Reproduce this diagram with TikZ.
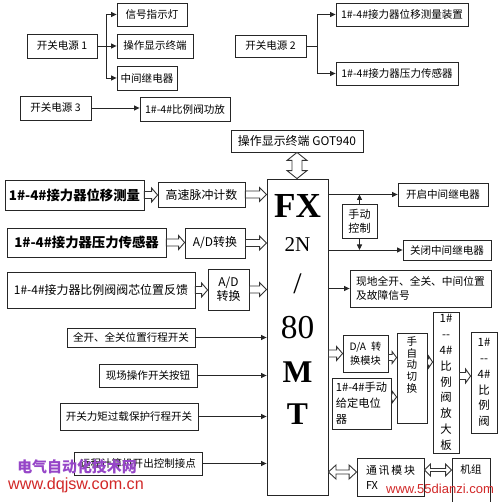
\documentclass[tikz,border=0pt]{standalone}
\usepackage{fontspec}
\setmainfont{Liberation Serif}
\newfontfamily\cjk{Noto Sans CJK SC}
\newfontfamily\wmfont{Liberation Sans}
\usetikzlibrary{arrows.meta,calc}
\definecolor{wmpurple}{RGB}{150,70,200}
\definecolor{wmred}{RGB}{210,40,40}
\newcommand\harrowR[5]{\draw[hollow] let \p1=(#1), \p2=(#2) in
  (\x1,\y1+#3) -- (\x2-#5,\y1+#3) -- (\x2-#5,\y1+#4) -- (\x2,\y1) -- (\x2-#5,\y1-#4) -- (\x2-#5,\y1-#3) -- (\x1,\y1-#3) -- cycle;}
\newcommand\harrowHH[5]{\draw[hollow] let \p1=(#1), \p2=(#2) in
  (\x1,\y1) -- (\x1+#5,\y1+#4) -- (\x1+#5,\y1+#3) -- (\x2-#5,\y1+#3) -- (\x2-#5,\y1+#4) -- (\x2,\y1) -- (\x2-#5,\y1-#4) -- (\x2-#5,\y1-#3) -- (\x1+#5,\y1-#3) -- (\x1+#5,\y1-#4) -- cycle;}
\newcommand\harrowVV[5]{\draw[hollow] let \p1=(#1), \p2=(#2) in
  (\x1,\y1) -- (\x1+#4,\y1-#5) -- (\x1+#3,\y1-#5) -- (\x1+#3,\y2+#5) -- (\x1+#4,\y2+#5) -- (\x1,\y2) -- (\x1-#4,\y2+#5) -- (\x1-#3,\y2+#5) -- (\x1-#3,\y1-#5) -- (\x1-#4,\y1-#5) -- cycle;}
\tikzset{
  box/.style={draw=black!85, line width=0.5pt, inner sep=0.5pt, align=center, font=\cjk\fontsize{6}{7}\selectfont},
  boldtxt/.style={font=\cjk\bfseries\fontsize{7.6}{9}\selectfont},
  midtxt/.style={font=\cjk\fontsize{6.8}{8}\selectfont},
  vtxt/.style={font=\cjk\fontsize{6.5}{9}\selectfont, align=center, inner sep=0pt},
  conn/.style={draw=black!85, line width=0.5pt},
  arr/.style={conn, -{Triangle[length=1.1mm,width=1mm]}},
  hollow/.style={draw=black!80, line width=0.5pt, fill=white},
}
\begin{document}
\begin{tikzpicture}[x=0.02cm,y=-0.02cm]
\useasboundingbox (0,0) rectangle (500,502);
\fill[white] (0,0) rectangle (500,502);
\clip (0,0) rectangle (500,502);

% ---------- power supplies ----------
\node[box, minimum width=14mm, minimum height=4.8mm] (p1) at (62,46) {开关电源 1};
\node[box, minimum width=14mm, minimum height=4.6mm] (sig) at (152,14.5) {信号指示灯};
\node[box, minimum width=15.2mm, minimum height=4.8mm] (opd) at (155,46) {操作显示终端};
\node[box, minimum width=12mm, minimum height=4.8mm] (rel) at (147,78) {中间继电器};
\coordinate (b1) at (106,46);
\draw[conn] (p1.east) -- (b1);
\draw[conn] (b1 |- sig.west) -- (b1 |- rel.west);
\draw[arr] (b1 |- sig.west) -- (sig.west);
\draw[arr] (b1 |- opd.west) -- (opd.west);
\draw[arr] (b1 |- rel.west) -- (rel.west);

\node[box, minimum width=14.2mm, minimum height=4.8mm] (p3) at (55.5,108) {开关电源 3};
\node[box, minimum width=18mm, minimum height=4.8mm] (amp) at (185,109) {1\#-4\#比例阀功放};
\draw[arr] (p3.east) -- (amp.west |- p3.east);

\node[box, minimum width=14.2mm, minimum height=4.4mm] (p2) at (270.5,46) {开关电源 2};
\node[box, minimum width=26.4mm, minimum height=4.6mm] (dsp) at (402,14.5) {1\#-4\#接力器位移测量装置};
\node[box, minimum width=24.4mm, minimum height=4.6mm] (prs) at (397,73.5) {1\#-4\#接力器压力传感器};
\coordinate (b2) at (317,46);
\draw[conn] (p2.east) -- (b2);
\draw[conn] (b2 |- dsp.west) -- (b2 |- prs.west);
\draw[arr] (b2 |- dsp.west) -- (dsp.west);
\draw[arr] (b2 |- prs.west) -- (prs.west);

% ---------- PLC ----------
\node[box, font=\cjk\fontsize{6.8}{8}\selectfont, minimum width=26.4mm, minimum height=4.4mm] (got) at (297,141) {操作显示终端 GOT940};
\node[box, minimum width=12.2mm, minimum height=63.2mm] (fx) at (297.5,337) {};
\node[font=\bfseries\fontsize{20}{20}\selectfont] (fx1) at (297.5,206) {FX};
\node[font=\fontsize{12}{12}\selectfont] (fx2) at (297.5,245) {2N};
\node[font=\fontsize{17}{17}\selectfont] (fx3) at (297.5,284) {/};
\node[font=\fontsize{19}{19}\selectfont] (fx4) at (297.5,328) {80};
\node[font=\bfseries\fontsize{18}{18}\selectfont] (fx5) at (297.5,372) {M};
\node[font=\bfseries\fontsize{18}{18}\selectfont] (fx6) at (297.5,414) {T};
\harrowVV{got.south}{fx.north}{1mm}{2mm}{1.6mm}

% ---------- left inputs ----------
\node[box, boldtxt, minimum width=27.8mm, minimum height=6mm] (l1) at (74.5,195) {1\#-4\#接力器位移测量};
\node[box, midtxt, minimum width=17.4mm, minimum height=5mm] (hs) at (201.5,194.5) {高速脉冲计数};
\node[box, boldtxt, minimum width=31.8mm, minimum height=5.8mm] (l2) at (86.5,242.5) {1\#-4\#接力器压力传感器};
\node[box, midtxt, minimum width=12mm, minimum height=6mm] (ad1) at (215,243) {A/D转换};
\node[box, midtxt, minimum width=37.6mm, minimum height=7.2mm] (l3) at (101,290) {1\#-4\#接力器比例阀阀芯位置反馈};
\node[box, midtxt, minimum width=8.2mm, minimum height=8.2mm] (ad2) at (228.5,289.5) {A/D\\转换};
\harrowR{l1.east}{hs.west}{0.7mm}{1.4mm}{1.2mm}
\harrowR{hs.east}{fx.west}{0.7mm}{1.4mm}{1.4mm}
\harrowR{l2.east}{ad1.west}{0.7mm}{1.4mm}{1.2mm}
\harrowR{ad1.east}{fx.west}{0.7mm}{1.4mm}{1.4mm}
\harrowR{l3.east}{ad2.west}{0.7mm}{1.4mm}{1.2mm}
\harrowR{ad2.east}{fx.west}{0.7mm}{1.4mm}{1.4mm}

\node[box, minimum width=25.6mm, minimum height=3.8mm] (l4) at (131,337.5) {全开、全关位置行程开关};
\node[box, minimum width=19.6mm, minimum height=4.6mm] (l5) at (148,375.5) {现场操作开关按钮};
\node[box, minimum width=27.6mm, minimum height=5.4mm] (l6) at (129,416.5) {开关力矩过载保护行程开关};
\node[box, minimum width=25.6mm, minimum height=4.6mm] (l7) at (138,463.5) {远程计算机开出控制接点};
\draw[arr] (l4.east) -- (l4.east -| fx.west);
\draw[arr] (l5.east) -- (l5.east -| fx.west);
\draw[arr] (l6.east) -- (l6.east -| fx.west);
\draw[arr] (l7.east) -- (l7.east -| fx.west);

% ---------- right outputs ----------
\node[box, minimum width=18mm, minimum height=4.6mm] (on) at (443,194.5) {开启中间继电器};
\node[box, font=\cjk\fontsize{6.3}{8}\selectfont, minimum width=7mm, minimum height=6.8mm] (man) at (359.5,221) {手动\\控制};
\node[box, minimum width=17.6mm, minimum height=4mm] (off) at (447,250) {关闭中间继电器};
\node[box, align=left, font=\cjk\fontsize{6.1}{8}\selectfont, minimum width=28.2mm, minimum height=7.4mm] (loc) at (420.5,288.5) {现地全开、全关、中间位置\\及故障信号};
\draw[arr] (fx.east |- on.west) -- (on.west);
\draw[arr] (fx.east |- off.west) -- (off.west);
\draw[arr] (man.north) -- (man.north |- on.west);
\draw[arr] (man.south) -- (man.south |- off.west);
\draw[arr] (fx.east |- loc.west) -- (loc.west);

\node[box, minimum width=9mm, minimum height=7.4mm, font=\cjk\fontsize{5.8}{8}\selectfont] (da) at (365.5,353.5) {D/A\enspace 转\\换模块};
\node[box, minimum width=6mm, minimum height=18mm,
  label={[vtxt, font=\cjk\fontsize{6}{6.6}\selectfont, anchor=north, yshift=-0.8mm]north:手\\自\\动\\切\\换}] (sw) at (412,378) {};
\node[box, align=left, font=\cjk\fontsize{6.4}{9}\selectfont, minimum width=11.8mm, minimum height=10.2mm] (pot) at (361.5,403.5) {1\#-4\#手动\\给定电位\\器};
\node[box, vtxt, minimum width=5.2mm, minimum height=28.2mm] (ampb) at (446,382.5) {1\#\\--\\4\#\\比\\例\\阀\\放\\大\\板};
\node[box, vtxt, minimum width=5.2mm, minimum height=20.2mm] (valve) at (484,382.5) {1\#\\--\\4\#\\比\\例\\阀};
\harrowR{fx.east |- da.west}{da.west}{0.7mm}{1.4mm}{1.2mm}
\harrowR{[yshift=-0.8mm]da.east}{sw.west}{0.6mm}{1.2mm}{0.9mm}
\harrowR{[yshift=1.3mm]pot.east}{sw.west}{0.6mm}{1.2mm}{0.9mm}
\harrowR{[yshift=3.2mm]sw.east}{ampb.west}{0.6mm}{1.2mm}{0.8mm}
\harrowR{[yshift=1.3mm]ampb.east}{valve.west}{0.7mm}{1.4mm}{1mm}

\node[box, align=left, font=\cjk\fontsize{6.2}{8.5}\selectfont, minimum width=13.4mm, minimum height=7.6mm] (com) at (390.5,477) {通\,讯\,模\,块\\FX};
\node[box, minimum width=7.6mm, minimum height=9.4mm,
  label={[box, draw=none, anchor=north, yshift=-1.2mm]north:机组}] (unit) at (471,481.5) {};
\coordinate (fxc) at (fx.east |- com.west);
\harrowHH{[yshift=1mm]fxc}{com.west}{0.4mm}{1.4mm}{1.5mm}
\harrowHH{[yshift=1.4mm]com.east}{unit.west}{0.3mm}{1.2mm}{1.2mm}

% ---------- watermarks ----------
\node[font=\cjk\bfseries\fontsize{8.5}{9}\selectfont, text=wmpurple] (wm1) at (77,467) {电气自动化技术网};
\node[font=\wmfont\fontsize{9.2}{10}\selectfont, text=wmred] (wm2) at (76,485) {www.dqjsw.com.cn};
\node[font=\wmfont\fontsize{7.4}{8}\selectfont, text=wmred] (wm3) at (440,489) {www.55dianzi.com};
\end{tikzpicture}
\end{document}
